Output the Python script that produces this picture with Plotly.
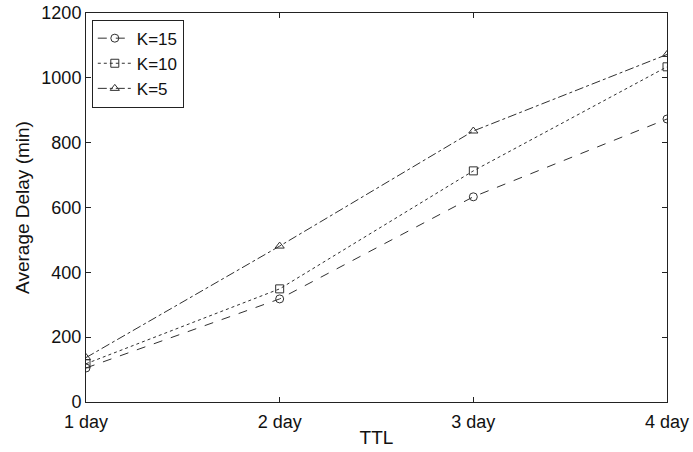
import plotly.graph_objects as go

# Average delay (minutes) for each time-to-live setting
ttl_labels = ["1 day", "2 day", "3 day", "4 day"]
delay_k15 = [105, 318, 633, 873]
delay_k10 = [118, 349, 713, 1034]
delay_k5 = [137, 481, 836, 1072]

series = [
    ("K=15", delay_k15, "dash", "circle-open"),
    ("K=10", delay_k10, "dot", "square-open"),
    ("K=5", delay_k5, "dashdot", "triangle-up-open"),
]

fig = go.Figure()
for name, values, dash, symbol in series:
    fig.add_trace(go.Scatter(
        x=list(range(len(ttl_labels))), y=values, name=name,
        mode="lines+markers",
        line=dict(color="#303030", width=1, dash=dash),
        marker=dict(symbol=symbol, size=8, color="#303030",
                    line=dict(color="#303030", width=1)),
    ))

font = dict(family="Liberation Sans, Arial, sans-serif", size=18, color="#111")

fig.update_layout(
    width=693, height=452,
    margin=dict(l=86, r=26, t=13, b=50),
    paper_bgcolor="white", plot_bgcolor="white",
    font=font,
    showlegend=True,
    legend=dict(
        x=0.010, y=0.983, xanchor="left", yanchor="top",
        bgcolor="white", bordercolor="#222", borderwidth=1,
        font=dict(size=17), itemwidth=34, tracegroupgap=0,
    ),
    xaxis=dict(
        range=[0, 3], tickmode="array",
        tickvals=list(range(len(ttl_labels))), ticktext=ttl_labels,
        ticks="inside", ticklen=5, tickcolor="#222",
        ticklabelstandoff=3,
        showline=True, linecolor="#222", linewidth=1, mirror="ticks",
        showgrid=False, zeroline=False, automargin=False,
        title=dict(text="TTL", standoff=0, font=dict(size=19)),
    ),
    yaxis=dict(
        range=[0, 1200], tickmode="array",
        tickvals=[0, 200, 400, 600, 800, 1000, 1200],
        ticks="inside", ticklen=5, tickcolor="#222",
        showline=True, linecolor="#222", linewidth=1, mirror="ticks",
        showgrid=False, zeroline=False, automargin=False,
        title=dict(text="Average Delay (min)", standoff=6, font=dict(size=19)),
    ),
)

fig.write_html("out.html")
